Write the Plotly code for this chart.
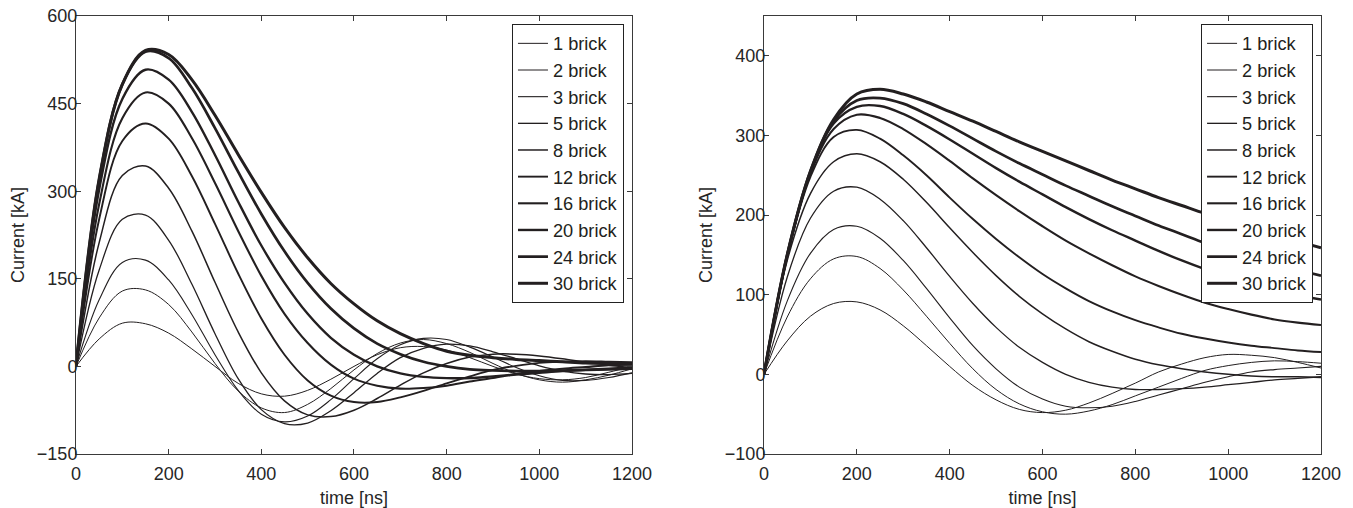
import plotly.graph_objects as go

t_ns = [0, 50, 100, 150, 200, 250, 300, 350, 400, 450, 500, 550, 600,
        650, 700, 750, 800, 850, 900, 950, 1000, 1050, 1100, 1150, 1200]

labels = ["1 brick", "2 brick", "3 brick", "5 brick", "8 brick",
          "12 brick", "16 brick", "20 brick", "24 brick", "30 brick"]
widths = [1.0, 1.0, 1.1, 1.3, 1.5, 1.9, 2.1, 2.4, 2.7, 3.0]

# Left panel
left_1 = [0, 47, 74, 73, 57, 30, 0, -29, -47, -51, -41, -22, 0, 20, 32, 34, 28, 15, 0, -13, -21, -23, -19, -10, 0]
left_2 = [0, 83, 129, 131, 106, 59, 5, -42, -71, -79, -65, -38, -6, 22, 40, 46, 39, 24, 5, -12, -23, -27, -23, -15, -4]
left_3 = [0, 114, 178, 182, 148, 89, 20, -41, -82, -95, -85, -57, -21, 13, 37, 48, 46, 33, 16, -2, -16, -24, -24, -19, -11]
left_5 = [0, 165, 252, 259, 216, 141, 56, -21, -74, -98, -97, -76, -45, -12, 15, 31, 38, 35, 25, 13, 1, -8, -13, -14, -12]
left_8 = [0, 212, 327, 343, 305, 232, 144, 59, -11, -59, -83, -86, -75, -55, -32, -11, 5, 16, 21, 21, 18, 13, 7, 2, -2]
left_12 = [0, 252, 386, 416, 390, 326, 244, 159, 82, 20, -24, -50, -61, -61, -53, -42, -29, -17, -6, 1, 6, 8, 9, 8, 7]
left_16 = [0, 278, 425, 469, 450, 391, 314, 232, 155, 90, 40, 3, -21, -33, -38, -37, -33, -26, -20, -13, -8, -4, -1, 2, 3]
left_20 = [0, 303, 458, 508, 491, 436, 362, 282, 207, 143, 90, 49, 20, 0, -12, -18, -20, -20, -17, -14, -11, -8, -6, -4, -2]
left_24 = [0, 320, 483, 539, 528, 477, 408, 333, 261, 197, 143, 99, 65, 39, 21, 8, 0, -5, -7, -8, -8, -7, -6, -5, -4]
left_30 = [0, 321, 483, 541, 534, 491, 430, 363, 298, 238, 186, 142, 107, 78, 56, 39, 26, 19, 15, 12, 10, 8, 6, 5, 4]

# Right panel
right_1 = [0, 42, 73, 89, 91, 81, 61, 36, 10, -14, -32, -44, -48, -45, -36, -24, -11, 3, 13, 21, 25, 24, 21, 15, 8]
right_2 = [0, 72, 120, 145, 148, 133, 106, 73, 39, 7, -19, -37, -47, -50, -46, -38, -27, -16, -5, 5, 11, 15, 17, 16, 14]
right_3 = [0, 92, 152, 182, 186, 171, 143, 108, 71, 36, 7, -16, -31, -40, -42, -40, -34, -26, -18, -10, -3, 3, 6, 8, 10]
right_5 = [0, 122, 196, 230, 235, 220, 193, 159, 123, 89, 59, 34, 15, 0, -10, -16, -19, -19, -18, -16, -13, -10, -7, -5, -3]
right_8 = [0, 143, 227, 267, 277, 267, 245, 216, 184, 153, 124, 98, 76, 57, 41, 29, 19, 12, 7, 3, 0, -2, -3, -3, -4]
right_12 = [0, 148, 248, 298, 307, 296, 275, 250, 222, 195, 170, 147, 126, 108, 92, 79, 68, 59, 51, 45, 40, 36, 33, 30, 28]
right_16 = [0, 149, 252, 308, 326, 322, 308, 289, 268, 246, 225, 205, 186, 168, 152, 137, 123, 111, 100, 90, 82, 75, 69, 65, 62]
right_20 = [0, 150, 254, 315, 336, 337, 327, 312, 295, 277, 259, 242, 226, 210, 195, 181, 168, 155, 143, 132, 122, 113, 105, 99, 94]
right_24 = [0, 150, 255, 318, 344, 347, 340, 327, 312, 296, 280, 265, 251, 237, 224, 211, 199, 187, 176, 165, 155, 146, 138, 131, 124]
right_30 = [0, 150, 255, 320, 352, 358, 352, 342, 330, 318, 305, 292, 280, 268, 256, 244, 233, 222, 212, 202, 193, 184, 175, 167, 159]

left_series = [left_1, left_2, left_3, left_5, left_8, left_12, left_16, left_20, left_24, left_30]
right_series = [right_1, right_2, right_3, right_5, right_8, right_12, right_16, right_20, right_24, right_30]

x_ticks = [0, 200, 400, 600, 800, 1000, 1200]
left_y_ticks = [-150, 0, 150, 300, 450, 600]
right_y_ticks = [-100, 0, 100, 200, 300, 400]

LINE = "#231f20"
AX = "#3a3a3a"
TXT = "#262626"
FONT = "Liberation Sans, Arial, Helvetica, sans-serif"

fig = go.Figure()
for lab, w, ys in zip(labels, widths, left_series):
    fig.add_trace(go.Scatter(x=t_ns, y=ys, mode="lines", name=lab,
                             line=dict(color=LINE, width=w, shape="spline", smoothing=1.0),
                             xaxis="x", yaxis="y", legend="legend"))
for lab, w, ys in zip(labels, widths, right_series):
    fig.add_trace(go.Scatter(x=t_ns, y=ys, mode="lines", name=lab,
                             line=dict(color=LINE, width=w, shape="spline", smoothing=1.0),
                             xaxis="x2", yaxis="y2", legend="legend2"))

axis_common = dict(showline=True, linecolor=AX, linewidth=1, mirror="ticks",
                   ticks="inside", ticklen=5, tickcolor=AX, showgrid=False, zeroline=False,
                   automargin=False, ticklabeloverflow="allow",
                   tickfont=dict(family=FONT, size=18, color=TXT))
title_font = dict(family=FONT, size=18, color=TXT)

legend_common = dict(bgcolor="white", bordercolor="#222", borderwidth=1,
                     font=dict(family=FONT, size=18.2, color="#231f20"),
                     xanchor="left", yanchor="top", tracegroupgap=0,
                     itemwidth=30)

fig.update_layout(
    width=1353, height=508,
    margin=dict(l=0, r=0, t=16, b=54),
    paper_bgcolor="white", plot_bgcolor="white",
    showlegend=True,
    xaxis=dict(domain=[0.05617, 0.46711], range=[0, 1200], tickvals=x_ticks,
               ticklabelstandoff=3,
               title=dict(text="time [ns]", font=title_font, standoff=8),
               **axis_common),
    yaxis=dict(domain=[0, 1], range=[-150, 600], tickvals=left_y_ticks,
               ticklabelstandoff=-6,
               title=dict(text="Current [kA]", font=title_font, standoff=7),
               **axis_common),
    xaxis2=dict(domain=[0.56467, 0.97635], range=[0, 1200], tickvals=x_ticks, anchor="y2",
                ticklabelstandoff=3,
                title=dict(text="time [ns]", font=title_font, standoff=8),
                **axis_common),
    yaxis2=dict(domain=[0, 1], range=[-100, 450], tickvals=right_y_ticks, anchor="x2",
                ticklabelstandoff=-6,
                title=dict(text="Current [kA]", font=title_font, standoff=7),
                **axis_common),
    legend=dict(x=0.3784, y=0.9817, **legend_common),
    legend2=dict(x=0.8877, y=0.9817, **legend_common),
)

# remove the default 8 px page margin so the figure fills the window exactly
fig.write_html("out.html",
               config={"displayModeBar": False},
               post_script="document.body.style.margin='0';document.body.style.overflow='hidden';")
